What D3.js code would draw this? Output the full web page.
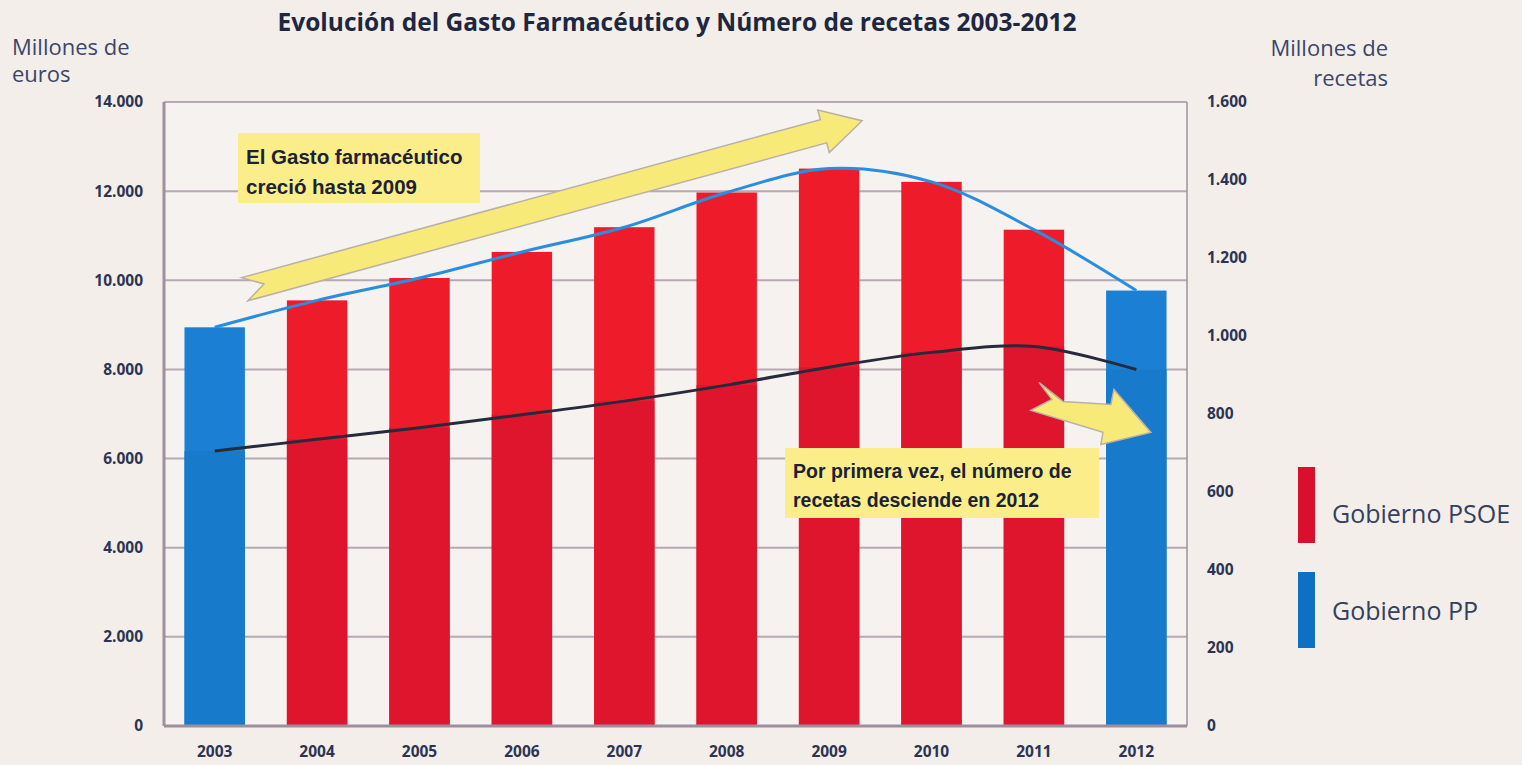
<!DOCTYPE html>
<html>
<head>
<meta charset="utf-8">
<script src="https://cdn.jsdelivr.net/npm/d3@7"></script>
<style>
  body { margin: 0; background: #f3eeea; }
  svg { display: block; }
</style>
</head>
<body>
<svg id="chart" width="1522" height="765"></svg>
<script>
var years = ["2003", "2004", "2005", "2006", "2007", "2008", "2009", "2010", "2011", "2012"];
var gasto = [8945, 9550, 10051, 10636, 11191, 11970, 12506, 12208, 11135, 9770];
var recetas = [705, 735, 765, 798, 833, 874, 920, 958, 973, 914];
var gobierno = ["PP", "PSOE", "PSOE", "PSOE", "PSOE", "PSOE", "PSOE", "PSOE", "PSOE", "PP"];
var leftTicks = [0, 2000, 4000, 6000, 8000, 10000, 12000, 14000];
var rightTicks = [0, 200, 400, 600, 800, 1000, 1200, 1400, 1600];
var legendItems = [{key: "PSOE", label: "Gobierno PSOE"}, {key: "PP", label: "Gobierno PP"}];

const barColor = {PSOE: "#ee1c2b", PP: "#1b80d3"},
    barColorDark = {PSOE: "#df152d", PP: "#177acb"},
    legendColor = {PSOE: "#d8102c", PP: "#0f6fc2"},
    textColor = "#2b3452",
    gridColor = "#b7a9b4";

var locale = d3.formatLocale({decimal: ",", thousands: ".", grouping: [3], currency: ["", "€"]});
var fmt = locale.format(",");

function drawChart() {
    var svg = d3.select("#chart"),
        margin = {top: 102, left: 164, right: 335, bottom: 39},
        width = +svg.attr("width") - margin.left - margin.right,
        height = +svg.attr("height") - margin.top - margin.bottom;

    var xScale = d3.scaleBand().domain(years).range([0, width]).paddingInner(0.41).paddingOuter(0.2),
        yLeft = d3.scaleLinear().domain([0, 14000]).range([height, 0]),
        yRight = d3.scaleLinear().domain([0, 1600]).range([height, 0]);

    var g = svg.append("g")
        .attr("transform", "translate(" + margin.left + "," + margin.top + ")");

    g.append("rect")
        .attr("width", width)
        .attr("height", height)
        .attr("fill", "#f6f2ef");

    // grid
    g.selectAll(".grid")
        .data(leftTicks.slice(1))
        .enter().append("line")
        .attr("x1", 0)
        .attr("x2", width)
        .attr("y1", function(d) { return yLeft(d); })
        .attr("y2", function(d) { return yLeft(d); })
        .attr("stroke", gridColor)
        .attr("stroke-width", 2);

    // bars
    g.selectAll(".bar")
        .data(years)
        .enter().append("rect")
        .attr("x", function(d) { return xScale(d); })
        .attr("y", function(d, i) { return yLeft(gasto[i]); })
        .attr("width", xScale.bandwidth())
        .attr("height", function(d, i) { return height - yLeft(gasto[i]); })
        .attr("fill", function(d, i) { return barColor[gobierno[i]]; });

    // slightly darker lower part (recetas)
    g.selectAll(".bar-dark")
        .data(years)
        .enter().append("rect")
        .attr("x", function(d) { return xScale(d); })
        .attr("y", function(d, i) { return yRight(recetas[i]); })
        .attr("width", xScale.bandwidth())
        .attr("height", function(d, i) { return height - yRight(recetas[i]); })
        .attr("fill", function(d, i) { return barColorDark[gobierno[i]]; });

    // frame
    g.append("line").attr("x1", 0).attr("x2", 0).attr("y1", 0).attr("y2", height)
        .attr("stroke", "#9f909e").attr("stroke-width", 3);
    g.append("line").attr("x1", width).attr("x2", width).attr("y1", 0).attr("y2", height)
        .attr("stroke", "#9f909e").attr("stroke-width", 1.5);
    g.append("line").attr("x1", 0).attr("x2", width).attr("y1", height).attr("y2", height)
        .attr("stroke", "#9d8e9e").attr("stroke-width", 3);

    // lines
    var cx = function(i) { return xScale(years[i]) + xScale.bandwidth() / 2; };

    g.append("path")
        .datum(gasto)
        .attr("fill", "none")
        .attr("stroke", "#2a8ee0")
        .attr("stroke-width", 3)
        .attr("d", d3.line()
            .x(function(d, i) { return cx(i); })
            .y(function(d) { return yLeft(d); })
            .curve(d3.curveCatmullRom.alpha(0.5)));

    g.append("path")
        .datum(recetas)
        .attr("fill", "none")
        .attr("stroke", "#262a3a")
        .attr("stroke-width", 3)
        .attr("d", d3.line()
            .x(function(d, i) { return cx(i); })
            .y(function(d) { return yRight(d); })
            .curve(d3.curveCatmullRom.alpha(0.5)));

    // axes
    var axisL = g.append("g")
        .call(d3.axisLeft(yLeft).tickValues(leftTicks).tickFormat(fmt).tickSize(0).tickPadding(21));
    axisL.select(".domain").remove();
    axisL.selectAll("text")
        .attr("font-family", "Open Sans, sans-serif")
        .attr("font-weight", "bold")
        .attr("font-size", 15.5)
        .attr("fill", textColor);

    var axisR = g.append("g")
        .attr("transform", "translate(" + width + ",0)")
        .call(d3.axisRight(yRight).tickValues(rightTicks).tickFormat(fmt).tickSize(0).tickPadding(20));
    axisR.select(".domain").remove();
    axisR.selectAll("text")
        .attr("font-family", "Open Sans, sans-serif")
        .attr("font-weight", "bold")
        .attr("font-size", 15.5)
        .attr("fill", textColor);

    var axisB = g.append("g")
        .attr("transform", "translate(0," + height + ")")
        .call(d3.axisBottom(xScale).tickSize(0).tickPadding(20));
    axisB.select(".domain").remove();
    axisB.selectAll("text")
        .attr("font-family", "Open Sans, sans-serif")
        .attr("font-weight", "bold")
        .attr("font-size", 15.5)
        .attr("fill", textColor);

    // axis titles
    var titleFont = "Open Sans, sans-serif";
    svg.append("text").attr("x", 12).attr("y", 55).text("Millones de")
        .attr("font-family", titleFont).attr("font-size", 22).attr("fill", "#3b4668");
    svg.append("text").attr("x", 12).attr("y", 82).text("euros")
        .attr("font-family", titleFont).attr("font-size", 22).attr("fill", "#3b4668");
    svg.append("text").attr("x", 1388).attr("y", 56).attr("text-anchor", "end").text("Millones de")
        .attr("font-family", titleFont).attr("font-size", 22).attr("fill", "#3b4668");
    svg.append("text").attr("x", 1388).attr("y", 86).attr("text-anchor", "end").text("recetas")
        .attr("font-family", titleFont).attr("font-size", 22).attr("fill", "#3b4668");

    svg.append("text")
        .attr("x", 677)
        .attr("y", 31)
        .attr("text-anchor", "middle")
        .attr("font-family", titleFont)
        .attr("font-weight", "bold")
        .attr("font-size", 24.5)
        .attr("fill", "#1d2740")
        .text("Evolución del Gasto Farmacéutico y Número de recetas 2003-2012");

    // big arrow (upward trend)
    var tail = [cx(0) + 30, yLeft(9800)],
        tip = [cx(6) + 33, yLeft(13580)];
    var dx = tip[0] - tail[0], dy = tip[1] - tail[1], len = Math.sqrt(dx * dx + dy * dy);
    var u = [dx / len, dy / len], n = [-u[1], u[0]];
    function pt(a, b) { return [tail[0] + u[0] * a + n[0] * b, tail[1] + u[1] * a + n[1] * b]; }
    var hw = 12, headW = 22, headL = 40, notch = 20;
    var arrow1 = [pt(0, -hw), pt(len - headL, -hw), pt(len - headL, -headW), pt(len, 0),
        pt(len - headL, headW), pt(len - headL, hw), pt(0, hw), pt(notch, 0)];
    g.append("polygon")
        .attr("points", arrow1.map(function(p) { return p.join(","); }).join(" "))
        .attr("fill", "#f8ea78")
        .attr("stroke", "#b9b0a8")
        .attr("stroke-width", 1.5);

    // annotation box 1
    g.append("rect")
        .attr("x", 74).attr("y", 31).attr("width", 242).attr("height", 70)
        .attr("fill", "#fbee8a");
    g.append("text").attr("x", 82).attr("y", 62).text("El Gasto farmacéutico")
        .attr("font-family", "Liberation Sans, Arial, sans-serif").attr("font-weight", "bold")
        .attr("font-size", 20.5).attr("fill", "#1c2233");
    g.append("text").attr("x", 82).attr("y", 92).text("creció hasta 2009")
        .attr("font-family", "Liberation Sans, Arial, sans-serif").attr("font-weight", "bold")
        .attr("font-size", 20.5).attr("fill", "#1c2233");

    // zigzag arrow (down)
    var ax = cx(8), ay = yRight(940);
    var arrow2 = [[ax + 5, ay + 23], [ax + 29, ay + 42], [ax + 77, ay + 45], [ax + 80, ay + 30],
        [ax + 117, ay + 73], [ax + 67, ay + 85], [ax + 69, ay + 73], [ax - 3, ay + 51], [ax + 18, ay + 40]];
    g.append("polygon")
        .attr("points", arrow2.map(function(p) { return p.join(","); }).join(" "))
        .attr("fill", "#f8ea78")
        .attr("stroke", "#b9b0a8")
        .attr("stroke-width", 1.5);

    // annotation box 2
    g.append("rect")
        .attr("x", 621).attr("y", 346).attr("width", 314).attr("height", 70)
        .attr("fill", "#fbee8a");
    g.append("text").attr("x", 629).attr("y", 376).text("Por primera vez, el número de")
        .attr("font-family", "Liberation Sans, Arial, sans-serif").attr("font-weight", "bold")
        .attr("font-size", 19.5).attr("fill", "#1c2233");
    g.append("text").attr("x", 629).attr("y", 405).text("recetas desciende en 2012")
        .attr("font-family", "Liberation Sans, Arial, sans-serif").attr("font-weight", "bold")
        .attr("font-size", 19.5).attr("fill", "#1c2233");

    // legend
    var legend = svg.selectAll(".legend")
        .data(legendItems)
        .enter().append("g")
        .attr("transform", function(d, i) { return "translate(1298," + (467 + i * 105) + ")"; });
    legend.append("rect")
        .attr("width", 17)
        .attr("height", 76)
        .attr("fill", function(d) { return legendColor[d.key]; });
    legend.append("text")
        .attr("x", 34)
        .attr("y", function(d, i) { return i === 0 ? 56 : 48; })
        .attr("font-family", titleFont)
        .attr("font-size", 25)
        .attr("fill", "#33405e")
        .text(function(d) { return d.label; });
}

drawChart();
</script>
</body>
</html>
